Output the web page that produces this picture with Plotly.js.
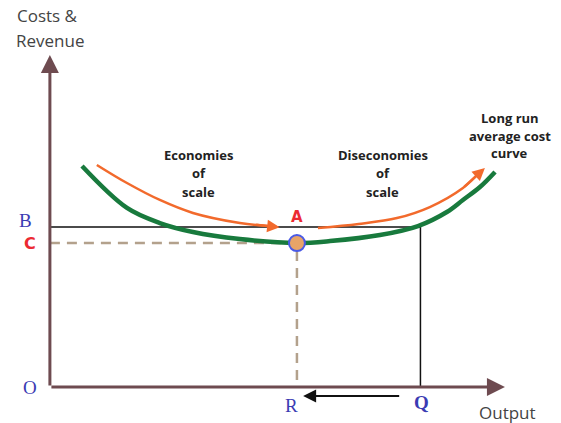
<!DOCTYPE html>
<html>
<head>
<meta charset="utf-8">
<script src="https://cdn.plot.ly/plotly-3.0.1.min.js"></script>
<style>
  html, body { margin: 0; padding: 0; background: #fff; }
  #plotDiv { width: 561px; height: 423px; }
</style>
</head>
<body>
<div id="plotDiv"></div>
<script>
// long run average cost curve (output, cost)
var lracX = [1.3, 3.12, 4.45, 5.79, 7.69, 10, 11.34, 13.36, 14.9, 16.07, 16.72, 17.41, 18.02];
var lracY = [13.81, 11.19, 10.25, 9.69, 9.25, 9.0, 9.12, 9.5, 10.06, 10.94, 11.69, 12.5, 13.44];

// orange arrows along the curve
var econX = [1.9, 3.12, 4.45, 5.79, 7.69, 9.0];
var econY = [13.88, 12.75, 11.69, 10.88, 10.25, 10.03];
var diseconX = [10.85, 12.5, 14.05, 15.38, 16.72, 17.45];
var diseconY = [9.94, 10.19, 10.56, 11.25, 12.44, 13.5];

// key levels
var bLevel = 10;
var cLevel = 9;
var rOutput = 10;
var qOutput = 15;
var xTip = 18.42;
var yTip = 20.75;

var econLabel = ['Economies', 'of', 'scale'];
var diseconLabel = ['Diseconomies', 'of', 'scale'];
var curveLabel = ['Long run', 'average cost', 'curve'];

var green = '#187a3d';
var orange = '#f26a2c';
var axisCol = '#6e4b50';
var blue = '#3b3bb3';
var red = '#ec2a32';

var traces = [
  { // C dashed lines
    x: [0, rOutput, rOutput], y: [cLevel, cLevel, 0],
    mode: 'lines', line: {color: '#b3a18c', width: 2.5, dash: '10px,7px'}
  },
  { // B line and Q drop
    x: [0, qOutput, qOutput], y: [bLevel, bLevel, 0],
    mode: 'lines', line: {color: '#111', width: 1.5}
  },
  {
    x: econX, y: econY, mode: 'lines',
    line: {color: orange, width: 2.5, shape: 'spline'}
  },
  {
    x: diseconX, y: diseconY, mode: 'lines',
    line: {color: orange, width: 2.5, shape: 'spline'}
  },
  {
    x: lracX, y: lracY, mode: 'lines',
    line: {color: green, width: 4.5, shape: 'spline'}
  },
  { // point A
    x: [rOutput], y: [cLevel], mode: 'markers',
    marker: {size: 16, color: '#e8a468', line: {color: '#4a5ae6', width: 2}}
  }
];

function arrow(x, y, ax, ay, color, w, size) {
  return {x: x, y: y, ax: ax, ay: ay, xref: 'x', yref: 'y', axref: 'x', ayref: 'y',
    text: '', showarrow: true, arrowhead: 2, arrowsize: size, arrowwidth: w,
    arrowcolor: color, standoff: 0, startstandoff: 0};
}

function txt(t, x, y, font, xanchor) {
  return {x: x, y: y, xref: 'x', yref: 'y', text: t, showarrow: false,
    xanchor: xanchor || 'center', yanchor: 'middle', font: font};
}

var boldFont = {family: '"Liberation Sans Narrow", "Open Sans", sans-serif', size: 13, color: '#222'};
var grayFont = {family: '"Open Sans", sans-serif', size: 17, color: '#444'};
var serifBlue = {family: '"Liberation Serif", "DejaVu Serif", serif', size: 19, color: blue};

var annotations = [
  arrow(0, yTip, 0, 0, axisCol, 3, 1.2),
  arrow(xTip, 0, 0, 0, axisCol, 3, 1.2),
  arrow(econX[5] + 0.3, econY[5] - 0.05, econX[4] + 0.6, econY[4] - 0.1, orange, 2.5, 1),
  arrow(17.61, 13.69, diseconX[4], diseconY[4], orange, 2.5, 1),
  arrow(rOutput + 0.25, -0.56, qOutput - 0.8, -0.56, '#111', 2, 1.3),
  txt('Costs &', -0.08, 23.25, grayFont),
  txt('Revenue', 0, 21.65, grayFont),
  txt('Output', 18.54, -1.6, grayFont),
  txt('B', -0.97, 10.4, serifBlue),
  txt('<b>C</b>', -0.81, cLevel, {family: '"DejaVu Sans", sans-serif', size: 16, color: red}),
  txt('O', -0.81, 0, serifBlue),
  txt('R', 9.8, -1.15, serifBlue),
  txt('<b>Q</b>', 15.05, -0.95, {family: '"Liberation Serif", serif', size: 19, color: blue}),
  txt('<b>A</b>', rOutput, 10.6, {family: '"DejaVu Sans", sans-serif', size: 15, color: red})
];

econLabel.forEach(function (t, i) {
  annotations.push(txt('<b>' + t + '</b>', 6.03, 14.5 - i * 1.15, boldFont));
});
diseconLabel.forEach(function (t, i) {
  annotations.push(txt('<b>' + t + '</b>', 13.48, 14.5 - i * 1.15, boldFont));
});
curveLabel.forEach(function (t, i) {
  annotations.push(txt('<b>' + t + '</b>', 18.62, 16.8 - i * 1.1, boldFont));
});

var hidden = {showgrid: false, zeroline: false, showticklabels: false, showline: false, ticks: '', fixedrange: true};

var layout = {
  width: 561,
  height: 423,
  margin: {l: 0, r: 0, t: 0, b: 0, pad: 0},
  paper_bgcolor: '#fff',
  plot_bgcolor: '#fff',
  showlegend: false,
  xaxis: Object.assign({range: [-2.02, 20.69]}, hidden),
  yaxis: Object.assign({range: [-2.25, 24.19]}, hidden),
  annotations: annotations
};

Plotly.newPlot('plotDiv', traces, layout, {displayModeBar: false, staticPlot: true});
</script>
</body>
</html>
